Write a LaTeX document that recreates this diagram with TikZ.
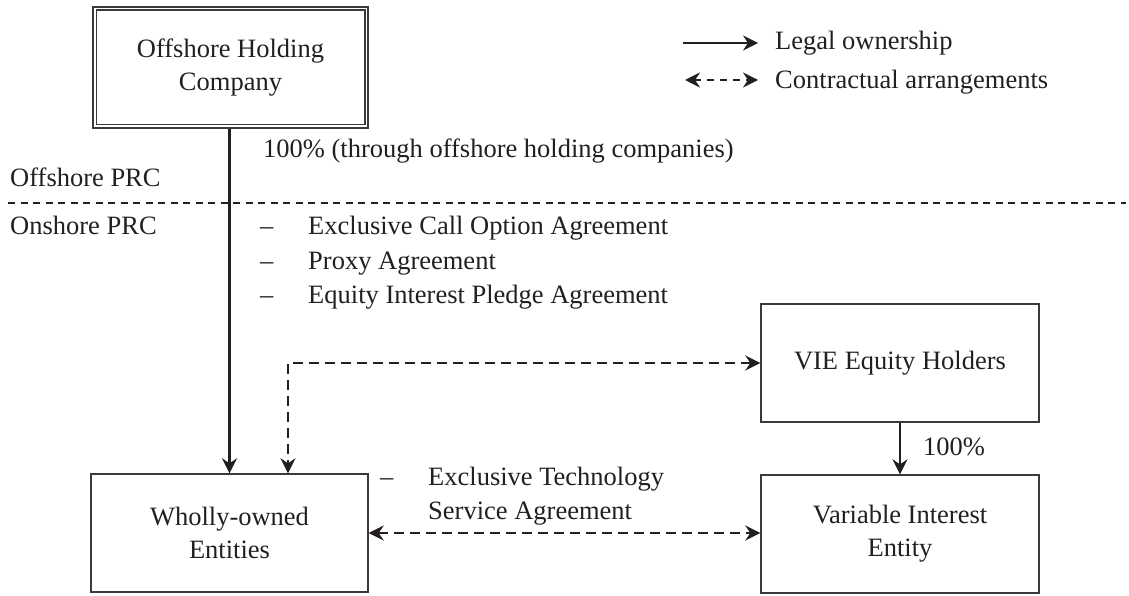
\documentclass[tikz,border=0pt]{standalone}
\usepackage{fontspec}
\setmainfont{Liberation Serif}
\usetikzlibrary{arrows.meta,calc}
\definecolor{ink}{HTML}{231F20}
\definecolor{frame}{HTML}{3A3A3A}

\begin{document}
\begin{tikzpicture}[x=1pt,y=-1pt,
  every node/.style={font=\fontsize{26.5}{33}\selectfont, text=ink},
  box/.style={draw=frame, line width=1.4pt, rectangle, inner sep=0pt, align=center},
  head/.style={},
  own/.style={draw=ink, line width=2.3pt, -{Stealth[length=15pt,width=15pt,inset=5pt]}},
  contract/.style={draw=ink, line width=2.3pt, dash pattern=on 10pt off 6pt,
    {Stealth[length=15pt,width=15pt,inset=5pt]}-{Stealth[length=15pt,width=15pt,inset=5pt]}},
  lbl/.style={anchor=base west, inner sep=0pt}]

\useasboundingbox (0,0) rectangle (1129,596);

% entity boxes
\node[box, line width=2.6pt, minimum width=275pt, minimum height=121pt] (off) at (230.5,67.5)
  {Offshore Holding\\Company};
\draw[frame, line width=1.4pt] ($(off.north west)+(4.5,4.5)$) rectangle ($(off.south east)+(-4.5,-4.5)$);
\node[box, minimum width=277pt, minimum height=118pt] (wo) at (229.5,533) {Wholly-owned\\Entities};
\node[box, minimum width=278pt, minimum height=118pt] (vieh) at (900,363) {VIE Equity Holders};
\node[box, minimum width=278pt, minimum height=118pt] (vie) at (900,534) {Variable Interest\\Entity};

% offshore / onshore divider
\coordinate (divl) at (8,203);
\coordinate (divr) at (1126,203);
\draw[ink, line width=1.1pt, dash pattern=on 7pt off 5.5pt] (divl) -- (divr);
\node[lbl] (offprc) at (10,186) {Offshore PRC};
\node[lbl] (onprc) at (10,234) {Onshore PRC};

% ownership links
\draw[own] (wo.north |- off.south) -- (wo.north);
\node[lbl] (pct1) at (263,158) {100\% (through offshore holding companies)};
\draw[own] (vieh.south) -- (vie.north);
\node[lbl] (pct2) at (923,455) {100\%};

% contractual links
\coordinate (bend) at (288,363);
\draw[contract] (vieh.west) -- (bend) -- (bend |- wo.north);
\draw[contract] (wo.east) -- (vie.west |- wo.east);

% agreements between the holding side and the VIE equity holders
\node[lbl] (d1) at (260,234) {\textendash};
\node[lbl] (a1) at (308,234) {Exclusive Call Option Agreement};
\node[lbl] (d2) at (260,269) {\textendash};
\node[lbl] (a2) at (308,269) {Proxy Agreement};
\node[lbl] (d3) at (260,303) {\textendash};
\node[lbl] (a3) at (308,303) {Equity Interest Pledge Agreement};

% service agreement
\node[lbl] (d4) at (380,485) {\textendash};
\node[lbl] (a4) at (428,485) {Exclusive Technology};
\node[lbl] (a5) at (428,519) {Service Agreement};

% legend
\coordinate (la) at (683,43);
\coordinate (lb) at (758,43);
\coordinate (lc) at (685,80);
\coordinate (ld) at (758,80);
\draw[own] (la) -- (lb);
\draw[contract, dash pattern=on 7pt off 6pt] (lc) -- (ld);
\node[lbl] (leg1) at (775,50) {Legal ownership};
\node[lbl] (leg2) at (775,89) {Contractual arrangements};
\end{tikzpicture}
\end{document}
